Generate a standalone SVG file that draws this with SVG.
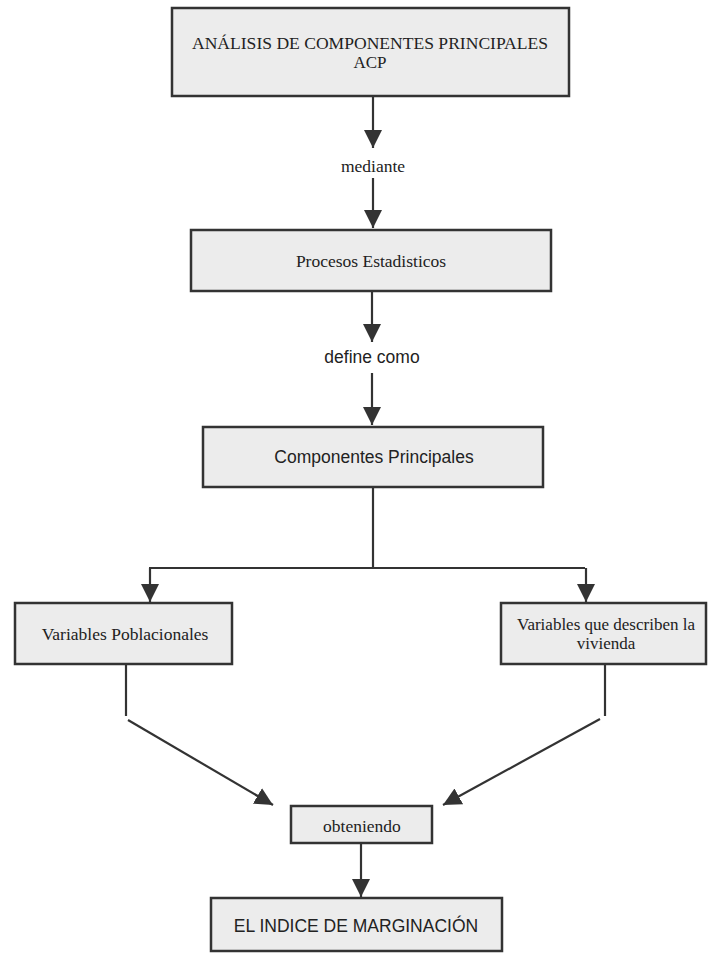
<svg xmlns="http://www.w3.org/2000/svg" width="708" height="953" viewBox="0 0 708 953">
<defs>
<style>
.box{fill:#ececec;stroke:#333;stroke-width:2.5}
.ln{fill:none;stroke:#333;stroke-width:2.2}
.serif{font-family:"Liberation Serif","Times New Roman",serif;font-size:17.5px;fill:#222;text-anchor:middle}
.s2{font-size:17px}
.sans{font-family:"Liberation Sans",Arial,sans-serif;font-size:17.5px;fill:#222;text-anchor:middle}
</style>
<marker id="ah" viewBox="0 0 18 20" refX="18" refY="9" markerWidth="18" markerHeight="20" markerUnits="userSpaceOnUse" orient="auto">
<path d="M0,0 L18,9 L0,18 Z" fill="#333"/>
</marker>
</defs>
<rect width="708" height="953" fill="#fff"/>
<g id="connectors">
<line class="ln" x1="373" y1="96" x2="373" y2="148" marker-end="url(#ah)"/>
<line class="ln" x1="373" y1="178" x2="373" y2="228" marker-end="url(#ah)"/>
<line class="ln" x1="372" y1="291" x2="372" y2="342" marker-end="url(#ah)"/>
<line class="ln" x1="372" y1="373" x2="372" y2="425" marker-end="url(#ah)"/>
<polyline class="ln" points="373,487 373,568"/>
<polyline class="ln" points="149,568 585,568"/>
<line class="ln" x1="150" y1="568" x2="150" y2="602" marker-end="url(#ah)"/>
<line class="ln" x1="586" y1="568" x2="586" y2="602" marker-end="url(#ah)"/>
<line class="ln" x1="126" y1="664" x2="126" y2="716"/>
<line class="ln" x1="128" y1="720" x2="273" y2="805" marker-end="url(#ah)"/>
<line class="ln" x1="605" y1="664" x2="605" y2="716"/>
<line class="ln" x1="600" y1="719" x2="443" y2="805" marker-end="url(#ah)"/>
<line class="ln" x1="361" y1="843" x2="361" y2="897" marker-end="url(#ah)"/>
</g>
<g id="label-mediante"><text class="serif" x="373" y="172">mediante</text></g>
<g id="label-define"><text class="sans" x="372" y="363">define como</text></g>
<g id="n-acp">
<rect class="box" x="172" y="8" width="397" height="88"/>
<text class="serif s2" x="370" y="49" textLength="356" lengthAdjust="spacingAndGlyphs">ANÁLISIS DE COMPONENTES PRINCIPALES</text>
<text class="serif s2" x="370" y="68">ACP</text>
</g>
<g id="n-procesos">
<rect class="box" x="191" y="230" width="360" height="61"/>
<text class="serif" x="371" y="267">Procesos Estadisticos</text>
</g>
<g id="n-componentes">
<rect class="box" x="203" y="427" width="340" height="60"/>
<text class="sans" x="374" y="463">Componentes Principales</text>
</g>
<g id="n-poblacionales">
<rect class="box" x="15" y="603" width="217" height="61"/>
<text class="serif" x="125" y="640">Variables Poblacionales</text>
</g>
<g id="n-vivienda">
<rect class="box" x="501" y="603" width="205" height="61"/>
<text class="serif s2" x="606" y="630">Variables que describen la</text>
<text class="serif s2" x="606" y="649">vivienda</text>
</g>
<g id="n-obteniendo">
<rect class="box" x="291" y="806" width="141" height="37"/>
<text class="serif" x="362" y="832">obteniendo</text>
</g>
<g id="n-indice">
<rect class="box" x="211" y="898" width="291" height="53"/>
<text class="sans" x="356" y="932">EL INDICE DE MARGINACIÓN</text>
</g>
</svg>
